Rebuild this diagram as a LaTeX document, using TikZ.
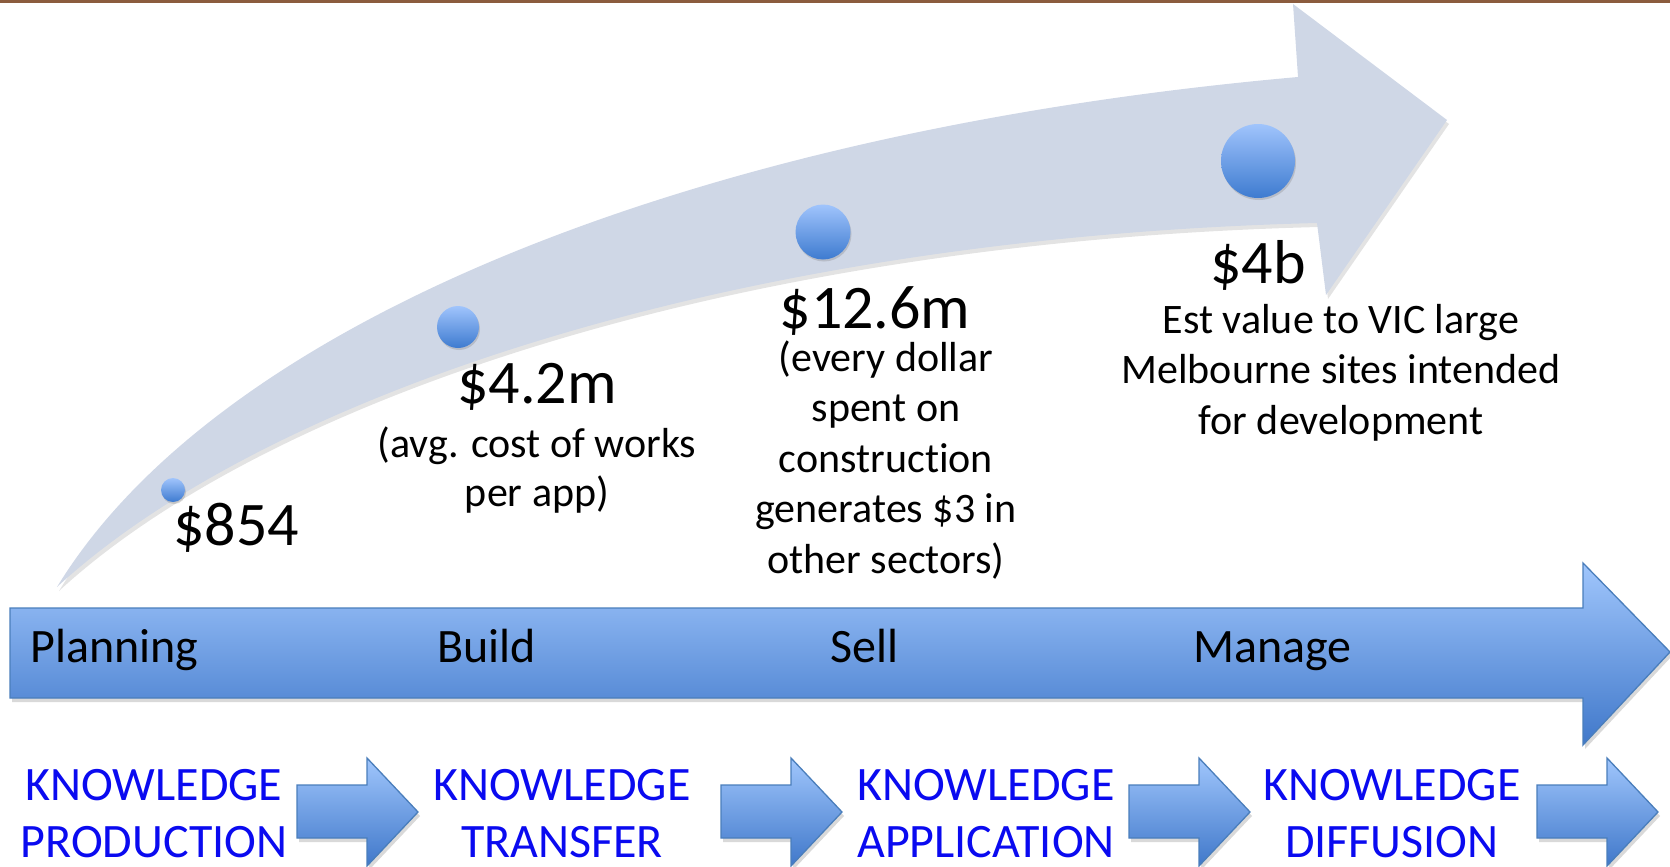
\documentclass[tikz,border=0pt]{standalone}
\usepackage{fontspec}
\setmainfont{Carlito}[Ligatures=NoCommon]
\usetikzlibrary{shadows}
\definecolor{bandfill}{RGB}{207,215,230}
\definecolor{arrowtop}{RGB}{160,198,252}
\definecolor{arrowbot}{RGB}{64,120,202}
\definecolor{arrowedge}{RGB}{74,126,187}
\definecolor{balltop}{RGB}{160,196,252}
\definecolor{ballbot}{RGB}{62,123,208}
\definecolor{kblue}{RGB}{10,10,240}
\definecolor{topband}{RGB}{139,92,62}
\newcommand\cstack[1]{\vtop{\halign{\hfil##\hfil\cr#1\crcr}}}
\tikzset{
  dollar/.style={font=\fontsize{62}{74}\selectfont, inner sep=0pt},
  note/.style={font=\fontsize{42}{49}\selectfont, inner sep=0pt},
  widenote/.style={font=\fontsize{42}{50.5}\selectfont, inner sep=0pt},
  stage/.style={font=\fontsize{48}{56}\selectfont, inner sep=0pt},
  know/.style={font=\fontsize{48}{57}\selectfont, inner sep=0pt, text=kblue},
  ball/.style={circle, inner sep=0pt, top color=balltop, bottom color=ballbot,
    drop shadow={opacity=0.3, shadow xshift=1pt, shadow yshift=-2pt}},
  bluearrow/.style={top color=arrowtop, bottom color=arrowbot, draw=arrowedge, line width=1.3pt,
    drop shadow={opacity=0.3, shadow xshift=2pt, shadow yshift=-4pt}},
  blockarrow/.pic={
    \path[bluearrow] (0,785) -- (70,785) -- (70,758) -- (121,812) -- (70,866) -- (70,838) -- (0,838) -- cycle;
  }
}
\begin{document}
\begin{tikzpicture}[x=1pt,y=-1pt]
\useasboundingbox (0,0) rectangle (1670,867);
\fill[topband] (0,0) rectangle (1670,3);

% curved arrow
\path[fill=bandfill, drop shadow={opacity=0.22, shadow xshift=2pt, shadow yshift=-4pt}]
  (57,587) .. controls (220,320) and (700,130) .. (1298,77) -- (1293,4) -- (1447,120)
  -- (1326,295) -- (1317,223) .. controls (720,238) and (260,400) .. cycle;

% balls
\node[ball, minimum size=24pt] (b1) at (173,490) {};
\node[ball, minimum size=42pt] (b2) at (458,327) {};
\node[ball, minimum size=55pt] (b3) at (823,232) {};
\node[ball, minimum size=74pt] (b4) at (1258,161) {};

% values
\node[dollar, anchor=base west] (v1) at (173,545) {\$854};
\node[dollar, anchor=base] (v2) at (537,403) {\$4.2m};
\node[note, anchor=base] (n2) at (537,457) {\cstack{(avg. cost of works\cr per app)}};
\node[dollar, anchor=base] (v3) at (875,328) {\$12.6m};
\node[widenote, anchor=base] (n3) at (886,371) {\cstack{(every dollar\cr spent on\cr construction\cr generates \$3 in\cr other sectors)}};
\node[dollar, anchor=base] (v4) at (1258,283) {\$4b};
\node[widenote, anchor=base] (n4) at (1341,333) {\cstack{Est value to VIC large\cr Melbourne sites intended\cr for development}};

% big straight arrow
\path[bluearrow] (10,608) -- (1583,608) -- (1583,563) -- (1670,652) -- (1583,745)
  -- (1583,698) -- (10,698) -- cycle;
\node[stage, anchor=base west] (s1) at (30,662) {Planning};
\node[stage, anchor=base west] (s2) at (437,662) {Build};
\node[stage, anchor=base west] (s3) at (830,662) {Sell};
\node[stage, anchor=base west] (s4) at (1193,662) {Manage};

% small arrows
\pic at (297,0) {blockarrow};
\pic at (721,0) {blockarrow};
\pic at (1129,0) {blockarrow};
\pic at (1537,0) {blockarrow};

% knowledge labels
\node[know, anchor=base] (k1) at (154,800) {\cstack{KNOWLEDGE\cr PRODUCTION}};
\node[know, anchor=base] (k2) at (562,800) {\cstack{KNOWLEDGE\cr TRANSFER}};
\node[know, anchor=base] (k3) at (986,800) {\cstack{KNOWLEDGE\cr APPLICATION}};
\node[know, anchor=base] (k4) at (1392,800) {\cstack{KNOWLEDGE\cr DIFFUSION}};
\end{tikzpicture}
\end{document}
